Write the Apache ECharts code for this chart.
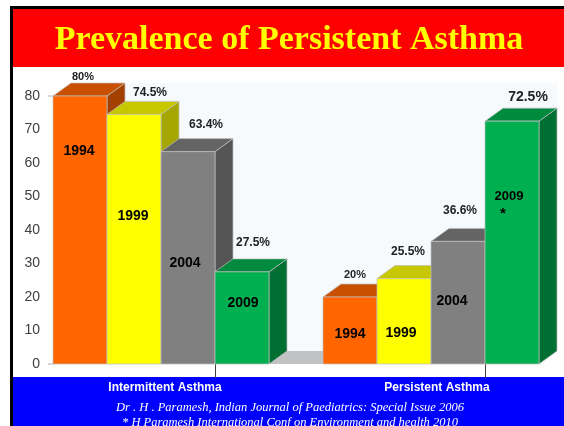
<!DOCTYPE html>
<html>
<head>
<meta charset="utf-8">
<script src="https://cdn.jsdelivr.net/npm/echarts@6/dist/echarts.min.js"></script>
<style>
  html, body { margin: 0; padding: 0; background: #fff; }
  #chart { width: 564px; height: 426px; }
</style>
</head>
<body>
<div id="chart"></div>
<script>
// ---- data ----
const years = ['1994', '1999', '2004', '2009'];
const groups = ['Intermittent Asthma', 'Persistent Asthma'];
const intermittent = [80, 74.5, 63.4, 27.5];
const persistent = [20, 25.5, 36.6, 72.5];
const yMin = 0, yMax = 80, yStep = 10;
const titleText = 'Prevalence of Persistent Asthma';
const footnotes = [
    'Dr . H . Paramesh, Indian Journal of Paediatrics: Special Issue 2006',
    '* H Paramesh International Conf on Environment and health 2010'
];
const starredBar = 7; // persistent 2009 carries the "*"

// ---- look ----
const DX = 18, DY = 13; // 3d depth
const frontColors = ['#ff6600', '#ffff00', '#808080', '#00b050'];
const topColors = ['#c85000', '#c8c800', '#646464', '#008a3e'];
const sideColors = ['#a34000', '#a6a600', '#555555', '#006f32'];
// per bar label tweaks, bar order: intermittent 0-3, persistent 4-7
const valueNudge = [[-15, -6], [-2, -9], [0, -14], [-7, -16], [-13, -9], [-14, -14], [-16, -18], [-2, -11]];
const valueFont = [11, 12, 12, 12, 11, 12, 12, 14];
const yearLevel = [63.6, 44.2, 30.1, 18.2, 9.0, 9.3, 18.8, 49.9];
const yearShift = [-1, -1, -3, 1, 0, -3, -6, -3];
const yearFont = [14, 14, 14, 14, 14, 14, 14, 13];

// slots on the category axis: 4 bars, a gap, 4 bars
const slots = years.concat([''], years);
const barData = [];
intermittent.forEach((v, j) => barData.push([j, v, j]));
persistent.forEach((v, j) => barData.push([j + 5, v, j + 4]));

const chart = echarts.init(document.getElementById('chart'), null, { renderer: 'canvas' });

function renderBar(params, api) {
    const slot = api.value(0), val = api.value(1), i = api.value(2);
    const c = i % 4;
    const base = api.coord([slot, 0]);
    const top = api.coord([slot, val]);
    const w = api.size([1, 0])[0];
    const x0 = base[0] - w / 2, x1 = base[0] + w / 2, yb = base[1], yt = top[1];
    const edge = { stroke: 'rgba(190,190,190,0.9)', lineWidth: 0.8 };
    const children = [
        { type: 'polygon', shape: { points: [[x1, yt], [x1 + DX, yt - DY], [x1 + DX, yb - DY], [x1, yb]] },
          style: Object.assign({ fill: sideColors[c] }, edge) },
        { type: 'polygon', shape: { points: [[x0, yt], [x1, yt], [x1 + DX, yt - DY], [x0 + DX, yt - DY]] },
          style: Object.assign({ fill: topColors[c] }, edge) },
        { type: 'rect', shape: { x: x0, y: yt, width: w, height: yb - yt },
          style: Object.assign({ fill: frontColors[c] }, edge) }
    ];
    const vl = api.coord([slot, yearLevel[i]]);
    children.push({
        type: 'text',
        style: {
            x: base[0] + DX + valueNudge[i][0], y: yt - DY + valueNudge[i][1],
            text: val + '%', align: 'center', verticalAlign: 'middle',
            fill: '#222', font: 'bold ' + valueFont[i] + 'px "Liberation Sans", Arial, sans-serif'
        }
    });
    children.push({
        type: 'text',
        style: {
            x: base[0] + yearShift[i], y: vl[1],
            text: years[c], align: 'center', verticalAlign: 'middle',
            fill: '#000', font: 'bold ' + yearFont[i] + 'px "Liberation Sans", Arial, sans-serif'
        }
    });
    if (i === starredBar) {
        children.push({
            type: 'text',
            style: {
                x: base[0] + yearShift[i] - 6, y: vl[1] + 17,
                text: '*', align: 'center', verticalAlign: 'middle',
                fill: '#000', font: 'bold 15px "Liberation Sans", Arial, sans-serif'
            }
        });
    }
    return { type: 'group', children: children };
}

function renderBack(params, api) {
    const w = api.size([1, 0])[0];
    const first = api.coord([0, yMin]);
    const last = api.coord([slots.length - 1, yMin]);
    const topY = api.coord([0, yMax])[1];
    const xl = first[0] - w / 2, xr = last[0] + w / 2, yb = first[1];
    const children = [
        { type: 'rect', shape: { x: xl + DX, y: topY - DY, width: xr - xl, height: yb - topY },
          style: { fill: '#f6fafd' } },
        { type: 'polygon', shape: { points: [[xl, yb], [xr, yb], [xr + DX, yb - DY], [xl + DX, yb - DY]] },
          style: { fill: '#c0c2c4' } },
        { type: 'line', shape: { x1: xl - 5, y1: yb, x2: xl, y2: yb }, style: { stroke: '#b0b0b0', lineWidth: 1 } },
        { type: 'line', shape: { x1: xl - 5, y1: topY, x2: xl, y2: topY }, style: { stroke: '#b0b0b0', lineWidth: 1 } }
    ];
    // one tick and one label per group
    groups.forEach((g, k) => {
        const a = api.coord([k * 5, 0])[0];
        const b = api.coord([k * 5 + 3, 0])[0];
        const tx = Math.round((api.coord([k * 5 + 2, 0])[0] + b) / 2) + 0.5;
        children.push({ type: 'line', shape: { x1: tx, y1: yb - 2, x2: tx, y2: yb + 14 },
            style: { stroke: '#404040', lineWidth: 1 } });
        children.push({ type: 'text', style: {
            x: (a + b) / 2 + 4 + k * 2, y: yb + 24, text: g, align: 'center', verticalAlign: 'middle',
            fill: '#fff', font: 'bold 12px "Liberation Sans", Arial, sans-serif' } });
    });
    return { type: 'group', children: children };
}

const option = {
    animation: false,
    grid: { left: 53, right: 25, top: 96, bottom: 62 },
    xAxis: {
        type: 'category',
        data: slots,
        axisLine: { show: false },
        axisTick: { show: false },
        axisLabel: { show: false }
    },
    yAxis: {
        type: 'value',
        min: yMin, max: yMax, interval: yStep,
        axisLine: { show: false },
        axisTick: { show: false },
        splitLine: { show: false },
        axisLabel: { color: '#404040', fontSize: 14, margin: 13, fontFamily: 'Liberation Sans' }
    },
    graphic: [
        { type: 'rect', shape: { x: 10, y: 6, width: 554, height: 3 }, style: { fill: '#000' } },
        { type: 'rect', shape: { x: 10, y: 6, width: 3, height: 420 }, style: { fill: '#000' } },
        { type: 'rect', shape: { x: 13, y: 9, width: 551, height: 58 }, style: { fill: '#ff0000' } },
        { type: 'rect', shape: { x: 13, y: 377, width: 551, height: 49 }, style: { fill: '#0000ff' } },
        { type: 'text', style: { x: 289, y: 40, text: titleText, align: 'center', verticalAlign: 'middle',
            fill: '#ffff00', font: 'bold 34px "Liberation Serif", "Times New Roman", serif' } },
        { type: 'text', style: { x: 290, y: 408, text: footnotes[0], align: 'center', verticalAlign: 'middle',
            fill: '#fff', font: 'italic 12.5px "Liberation Serif", "Times New Roman", serif' } },
        { type: 'text', style: { x: 290, y: 423, text: footnotes[1], align: 'center', verticalAlign: 'middle',
            fill: '#fff', font: 'italic 12.5px "Liberation Serif", "Times New Roman", serif' } }
    ],
    series: [
        { type: 'custom', renderItem: renderBack, data: [[0, 0]], silent: true, z: 1 },
        { type: 'custom', renderItem: renderBar, data: barData, encode: { x: 0, y: 1 }, z: 2 }
    ]
};
chart.setOption(option);
</script>
</body>
</html>
